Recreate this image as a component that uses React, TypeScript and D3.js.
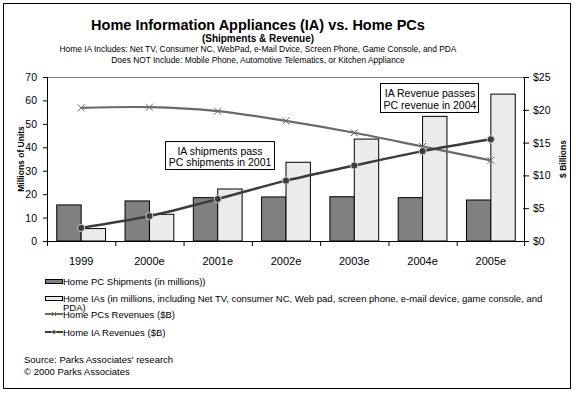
import React from "react";
import * as d3 from "d3";

const years = ["1999", "2000e", "2001e", "2002e", "2003e", "2004e", "2005e"];
const pcShipments = [15.4, 17.1, 18.5, 18.8, 18.9, 18.5, 17.5];
const iaShipments = [5.3, 11.4, 22.2, 33.6, 43.5, 53.2, 62.7];
const pcRevenue = [20.3, 20.4, 19.8, 18.3, 16.5, 14.4, 12.3];
const iaRevenue = [2.0, 3.8, 6.4, 9.2, 11.5, 13.7, 15.5];
const leftTicks = [0, 10, 20, 30, 40, 50, 60, 70];
const rightTicks = [0, 5, 10, 15, 20, 25];

const FONT = "Arial, 'Liberation Sans', sans-serif";

const App: React.FC = () => {
  const W = 576;
  const H = 394;
  const m = { left: 47, right: 525, top: 77, bottom: 241 };

  const x = d3.scaleBand<string>().domain(years).range([m.left, m.right]);
  const inner = d3.scaleBand<string>().domain(["pc", "ia"]).range([0, x.bandwidth()]).paddingOuter(0.4);
  const yL = d3.scaleLinear().domain([0, 70]).range([m.bottom, m.top]);
  const yR = d3.scaleLinear().domain([0, 25]).range([m.bottom, m.top]);
  const cx = (y: string) => (x(y) as number) + x.bandwidth() / 2;

  const line = d3
    .line<number>()
    .x((_, i) => cx(years[i]))
    .y((d) => yR(d))
    .curve(d3.curveCatmullRom.alpha(0.5));

  const pcColor = "#6a6a6a";
  const iaColor = "#3c3c3c";

  const xMark = (px: number, py: number, s = 3.5, col = pcColor) => (
    <path d={`M${px - s},${py - s}L${px + s},${py + s}M${px - s},${py + s}L${px + s},${py - s}`} stroke={col} strokeWidth={1} fill="none" />
  );

  const legendX = 45;
  const legendW = 17;

  return (
    <svg width={W} height={H} style={{ position: "absolute", left: 0, top: 0, background: "#fff" }} fontFamily={FONT}>
      <rect x={3.5} y={3.5} width={567} height={385} fill="#fff" stroke="#000" strokeWidth={1} />

      {/* titles */}
      <text x={258} y={30} textAnchor="middle" fontSize={14.5} fontWeight="bold" fill="#000">
        Home Information Appliances (IA) vs. Home PCs
      </text>
      <text x={258} y={42} textAnchor="middle" fontSize={10} fontWeight="bold" fill="#000">
        (Shipments &amp; Revenue)
      </text>
      <text x={258} y={52} textAnchor="middle" fontSize={8.4} fill="#000">
        Home IA Includes:  Net TV, Consumer NC, WebPad, e-Mail Dvice, Screen Phone, Game Console, and PDA
      </text>
      <text x={258} y={63} textAnchor="middle" fontSize={8.4} fill="#000">
        Does NOT Include: Mobile Phone, Automotive Telematics, or Kitchen Appliance
      </text>

      {/* plot frame top */}
      <line x1={m.left} x2={m.right} y1={m.top + 0.5} y2={m.top + 0.5} stroke="#808080" />

      {/* bars */}
      {years.map((yr, i) => (
        <g key={yr}>
          <rect
            x={(x(yr) as number) + (inner("pc") as number)}
            y={yL(pcShipments[i])}
            width={inner.bandwidth()}
            height={yL(0) - yL(pcShipments[i])}
            fill="#808080"
            stroke="#000"
          />
          <rect
            x={(x(yr) as number) + (inner("ia") as number)}
            y={yL(iaShipments[i])}
            width={inner.bandwidth()}
            height={yL(0) - yL(iaShipments[i])}
            fill="#ebebeb"
            stroke="#000"
          />
        </g>
      ))}

      {/* left axis */}
      <line x1={m.left + 0.5} x2={m.left + 0.5} y1={m.top} y2={m.bottom} stroke="#000" />
      {leftTicks.map((t) => (
        <g key={t}>
          <line x1={m.left - 4} x2={m.left} y1={yL(t) + 0.5} y2={yL(t) + 0.5} stroke="#000" />
          <text x={37} y={yL(t) + 4} textAnchor="end" fontSize={10.5} fill="#000">
            {t}
          </text>
        </g>
      ))}
      <text transform={`translate(24,${(m.top + m.bottom) / 2}) rotate(-90)`} textAnchor="middle" fontSize={8.5} fontWeight="bold" fill="#000">
        Millions of Units
      </text>

      {/* right axis */}
      <line x1={m.right - 0.5} x2={m.right - 0.5} y1={m.top} y2={m.bottom} stroke="#000" />
      {rightTicks.map((t) => (
        <g key={t}>
          <line x1={m.right - 2} x2={m.right + 4} y1={yR(t) + 0.5} y2={yR(t) + 0.5} stroke="#000" />
          <text x={533} y={yR(t) + 4} fontSize={10.5} fill="#000">
            {d3.format("$")(t)}
          </text>
        </g>
      ))}
      <text transform={`translate(566,${(m.top + m.bottom) / 2}) rotate(-90)`} textAnchor="middle" fontSize={8.5} fontWeight="bold" fill="#000">
        $ Billions
      </text>

      {/* x axis */}
      <line x1={m.left} x2={m.right} y1={m.bottom + 0.5} y2={m.bottom + 0.5} stroke="#000" />
      {years.map((yr) => (
        <line key={yr} x1={(x(yr) as number) + 0.5} x2={(x(yr) as number) + 0.5} y1={m.bottom} y2={m.bottom + 5} stroke="#000" />
      ))}
      <line x1={m.right - 0.5} x2={m.right - 0.5} y1={m.bottom} y2={m.bottom + 5} stroke="#000" />
      {years.map((yr) => (
        <text key={yr} x={cx(yr)} y={265} textAnchor="middle" fontSize={11} fill="#000">
          {yr}
        </text>
      ))}

      {/* revenue lines */}
      <path d={line(pcRevenue) as string} fill="none" stroke={pcColor} strokeWidth={2.2} />
      {pcRevenue.map((v, i) => (
        <g key={i}>{xMark(cx(years[i]), yR(v))}</g>
      ))}
      <path d={line(iaRevenue) as string} fill="none" stroke={iaColor} strokeWidth={2.5} />
      {iaRevenue.map((v, i) => (
        <circle key={i} cx={cx(years[i])} cy={yR(v)} r={3.6} fill={iaColor} stroke="#cfcfcf" strokeWidth={1} />
      ))}

      {/* annotations */}
      <rect x={165.5} y={141.5} width={109} height={28} fill="#fff" stroke="#000" />
      <text x={220} y={155} textAnchor="middle" fontSize={10.5} fill="#000">
        IA shipments pass
      </text>
      <text x={220} y={166} textAnchor="middle" fontSize={10.5} fill="#000">
        PC shipments in 2001
      </text>
      <rect x={380.5} y={83.5} width={98} height={29} fill="#fff" stroke="#000" />
      <text x={430} y={97} textAnchor="middle" fontSize={10.5} fill="#000">
        IA Revenue passes
      </text>
      <text x={430} y={109} textAnchor="middle" fontSize={10.5} fill="#000">
        PC revenue in 2004
      </text>

      {/* legend */}
      <rect x={legendX + 0.5} y={279.5} width={legendW} height={4} fill="#808080" stroke="#000" />
      <text x={63} y={285} fontSize={9.5} fill="#000">
        Home PC Shipments (in millions))
      </text>
      <rect x={legendX + 0.5} y={296.5} width={legendW} height={4} fill="#ebebeb" stroke="#000" />
      <text x={63} y={302} fontSize={9.5} fill="#000">
        Home IAs (in millions, including Net TV, consumer NC, Web pad, screen phone, e-mail device, game console, and
      </text>
      <text x={63} y={311} fontSize={9.5} fill="#000">
        PDA)
      </text>
      <line x1={legendX} x2={legendX + legendW + 1} y1={314} y2={314} stroke={pcColor} strokeWidth={2} />
      {xMark(legendX + 9, 314, 2)}
      <text x={63} y={318} fontSize={9.5} fill="#000">
        Home PCs Revenues ($B)
      </text>
      <line x1={legendX} x2={legendX + legendW + 1} y1={332} y2={332} stroke={iaColor} strokeWidth={2} />
      <circle cx={legendX + 9} cy={332} r={2} fill={iaColor} stroke="#cfcfcf" strokeWidth={0.8} />
      <text x={63} y={336} fontSize={9.5} fill="#000">
        Home IA Revenues ($B)
      </text>

      <text x={24} y={363} fontSize={9.5} fill="#000">
        Source:  Parks Associates' research
      </text>
      <text x={24} y={375} fontSize={9.5} fill="#000">
        © 2000 Parks Associates
      </text>
    </svg>
  );
};

export default App;
